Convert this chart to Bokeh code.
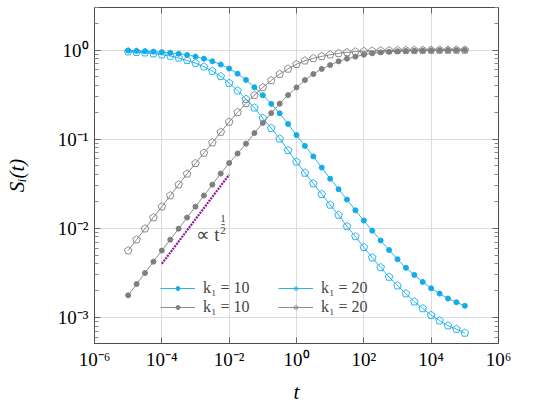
from bokeh.plotting import figure
from bokeh.models import (FixedTicker, LogAxis, CustomJSTickFormatter, Legend,
                          LegendItem, Label, Range1d, ColumnDataSource)
from bokeh.embed import file_html
from bokeh.resources import INLINE

# sample times (4 points per decade)
t = [1.0e-05, 1.778e-05, 3.162e-05, 5.623e-05,
     1.0e-04, 1.778e-04, 3.162e-04, 5.623e-04,
     1.0e-03, 1.778e-03, 3.162e-03, 5.623e-03,
     1.0e-02, 1.778e-02, 3.162e-02, 5.623e-02,
     1.0e-01, 1.778e-01, 3.162e-01, 5.623e-01,
     1.0e+00, 1.778e+00, 3.162e+00, 5.623e+00,
     1.0e+01, 1.778e+01, 3.162e+01, 5.623e+01,
     1.0e+02, 1.778e+02, 3.162e+02, 5.623e+02,
     1.0e+03, 1.778e+03, 3.162e+03, 5.623e+03,
     1.0e+04, 1.778e+04, 3.162e+04, 5.623e+04,
     1.0e+05]

# decaying curves
s_decay_k10 = [0.985, 0.978, 0.970, 0.960, 0.947, 0.930, 0.907, 0.880, 0.845, 0.800,
               0.748, 0.688, 0.620, 0.543, 0.462, 0.382, 0.311, 0.249, 0.195, 0.148,
               0.111, 0.084, 0.064, 0.048, 0.036, 0.0274, 0.0210, 0.0159, 0.0122, 0.0094,
               0.0073, 0.0057, 0.0045, 0.0036, 0.0030, 0.0025, 0.00212, 0.00185, 0.00163,
               0.00148, 0.00135]
s_decay_k20 = [0.958, 0.945, 0.933, 0.912, 0.888, 0.857, 0.815, 0.766, 0.714, 0.650,
               0.580, 0.506, 0.426, 0.349, 0.281, 0.225, 0.172, 0.133, 0.101, 0.075,
               0.0556, 0.0418, 0.0318, 0.0241, 0.0183, 0.0141, 0.0105, 0.0081, 0.00612,
               0.00468, 0.00364, 0.00284, 0.00227, 0.00185, 0.00150, 0.00126, 0.00106,
               0.00092, 0.00081, 0.00074, 0.00067]

# growing curves
s_grow_k10 = [0.00177, 0.00237, 0.00315, 0.00422, 0.00562, 0.00746, 0.0099, 0.0132, 0.0175,
              0.0233, 0.0309, 0.0411, 0.0540, 0.0690, 0.0890, 0.117, 0.152, 0.196, 0.250,
              0.312, 0.381, 0.460, 0.537, 0.612, 0.678, 0.746, 0.800, 0.842, 0.887, 0.918,
              0.941, 0.958, 0.968, 0.976, 0.982, 0.987, 0.990, 0.993, 0.995, 0.997, 0.998]
s_grow_k20 = [0.00562, 0.00746, 0.0099, 0.0132, 0.0175, 0.0233, 0.0309, 0.0408, 0.0536,
              0.0700, 0.0915, 0.120, 0.156, 0.200, 0.252, 0.312, 0.381, 0.456, 0.537,
              0.614, 0.692, 0.759, 0.806, 0.849, 0.886, 0.917, 0.941, 0.958, 0.968,
              0.976, 0.982, 0.987, 0.990, 0.993, 0.995, 0.997, 0.998, 0.999, 0.999,
              1.0, 1.0]

# power-law guide, slope 1/2
guide_t = [1.0e-04, 1.0e-02]
guide_s = [0.004, 0.04]

labels = ["k\u2081 = 10", "k\u2081 = 10", "k\u2081 = 20", "k\u2081 = 20"]

x_ticks = [1e-6, 1e-4, 1e-2, 1e0, 1e2, 1e4, 1e6]
y_ticks = [1e-3, 1e-2, 1e-1, 1e0]
y_minor = [m * 10.0 ** e for e in range(-4, 1) for m in range(2, 10)]

CYAN = "#13ACEA"
GRAY = "#7f7f7f"
PURPLE = "#8B1A95"
FONT = "'Liberation Serif', serif"

p = figure(width=540, height=420, x_axis_type="log", y_axis_type="log",
           x_range=Range1d(1e-6, 1e6), y_range=Range1d(5.1e-4, 3.0),
           output_backend="svg", toolbar_location=None,
           min_border_left=94, min_border_right=42, min_border_top=7,
           min_border_bottom=77)
p.outline_line_color = "#4d4d4d"
p.outline_line_width = 1

x_ticker = FixedTicker(ticks=x_ticks, minor_ticks=[])
y_ticker = FixedTicker(ticks=y_ticks, minor_ticks=y_minor)

fmt = CustomJSTickFormatter(code="""
const e = Math.round(Math.log10(tick));
const sup = {"-": "\\u207b", "0": "\\u2070", "1": "\\u00b9", "2": "\\u00b2",
             "3": "\\u00b3", "4": "\\u2074", "5": "\\u2075", "6": "\\u2076",
             "7": "\\u2077", "8": "\\u2078", "9": "\\u2079"};
return "10" + String(e).split("").map(c => sup[c]).join("");
""")
blank = CustomJSTickFormatter(code='return "";')

for ax, tk in ((p.xaxis[0], x_ticker), (p.yaxis[0], y_ticker)):
    ax.ticker = tk
    ax.formatter = fmt
    ax.major_tick_in = 6
    ax.major_tick_out = 0
    ax.minor_tick_in = 4
    ax.minor_tick_out = 0
    ax.major_tick_line_color = "#666666"
    ax.minor_tick_line_color = "#888888"
    ax.axis_line_color = "#4d4d4d"
    ax.major_label_text_font = FONT
    ax.major_label_text_font_size = "19px"
    ax.major_label_text_color = "black"
    ax.axis_label_text_font = FONT
    ax.axis_label_text_font_style = "italic"
    ax.axis_label_text_font_size = "21px"
    ax.axis_label_text_color = "black"

p.xaxis[0].axis_label = "t"
p.xaxis[0].major_label_standoff = 5
p.xaxis[0].axis_label_standoff = 7
p.yaxis[0].axis_label = "S\u1d62(t)"
p.yaxis[0].major_label_standoff = 6
p.yaxis[0].axis_label_standoff = 26

# mirrored tick marks on the right and top edges
for side, tk in (("right", y_ticker), ("above", x_ticker)):
    ax = LogAxis(ticker=tk, formatter=blank, major_label_text_font_size="1px",
                 major_label_standoff=0, major_tick_in=6, major_tick_out=0,
                 minor_tick_in=4, minor_tick_out=0,
                 major_tick_line_color="#666666", minor_tick_line_color="#888888",
                 axis_line_color="#4d4d4d")
    p.add_layout(ax, side)

p.xgrid.ticker = x_ticker
p.ygrid.ticker = y_ticker
p.xgrid.grid_line_color = "#dcdcdc"
p.ygrid.grid_line_color = "#dcdcdc"

src = ColumnDataSource(dict(t=t, d10=s_decay_k10, d20=s_decay_k20,
                            g10=s_grow_k10, g20=s_grow_k20))


def pentagons(col, color):
    if hasattr(p, "ngon"):
        try:
            return p.ngon(x="t", y=col, source=src, radius=4.0,
                          radius_units="screen", n=5, angle=0,
                          fill_color=None, line_color=color, line_width=0.9)
        except Exception:
            pass
    return p.scatter(x="t", y=col, source=src, marker="hex", size=8,
                     fill_color=None, line_color=color, line_width=0.9)


l1 = p.line("t", "d10", source=src, line_color=CYAN, line_width=0.9)
m1 = p.scatter("t", "d10", source=src, size=5, fill_color=CYAN, line_color=CYAN)
l2 = p.line("t", "d20", source=src, line_color=CYAN, line_width=0.9)
m2 = pentagons("d20", CYAN)
l3 = p.line("t", "g10", source=src, line_color=GRAY, line_width=0.9)
m3 = p.scatter("t", "g10", source=src, size=5, fill_color=GRAY, line_color=GRAY)
l4 = p.line("t", "g20", source=src, line_color=GRAY, line_width=0.9)
m4 = pentagons("g20", GRAY)

p.line(guide_t, guide_s, line_color=PURPLE, line_width=2.2, line_dash="2 1")

# annotation: proportional to t^(1/2)
p.add_layout(Label(x=1.0e-3, y=0.0086, text="\u221d t", text_font=FONT,
                   text_font_size="19px", text_baseline="alphabetic"))
p.add_layout(Label(x=6.6e-3, y=0.0128, text="1", text_font=FONT,
                   text_font_size="11px", text_align="center",
                   text_baseline="middle"))
p.add_layout(Label(x=6.6e-3, y=0.0094, text="2", text_font=FONT,
                   text_font_size="11px", text_align="center",
                   text_baseline="middle"))
p.segment(x0=[5.9e-3], y0=[0.0110], x1=[7.4e-3], y1=[0.0110],
          line_color="black", line_width=0.7)

legend = Legend(items=[LegendItem(label=labels[0], renderers=[l1, m1]),
                       LegendItem(label=labels[1], renderers=[l3, m3]),
                       LegendItem(label=labels[2], renderers=[l2, m2]),
                       LegendItem(label=labels[3], renderers=[l4, m4])],
                ncols=2, location=(66, 27), glyph_width=35, glyph_height=10,
                label_height=19, label_width=75, label_standoff=8, spacing=0,
                padding=0, margin=0, border_line_color=None,
                background_fill_alpha=0, label_text_font=FONT,
                label_text_font_size="16px")
p.add_layout(legend)

open("out.html", "w").write(file_html(p, INLINE))
